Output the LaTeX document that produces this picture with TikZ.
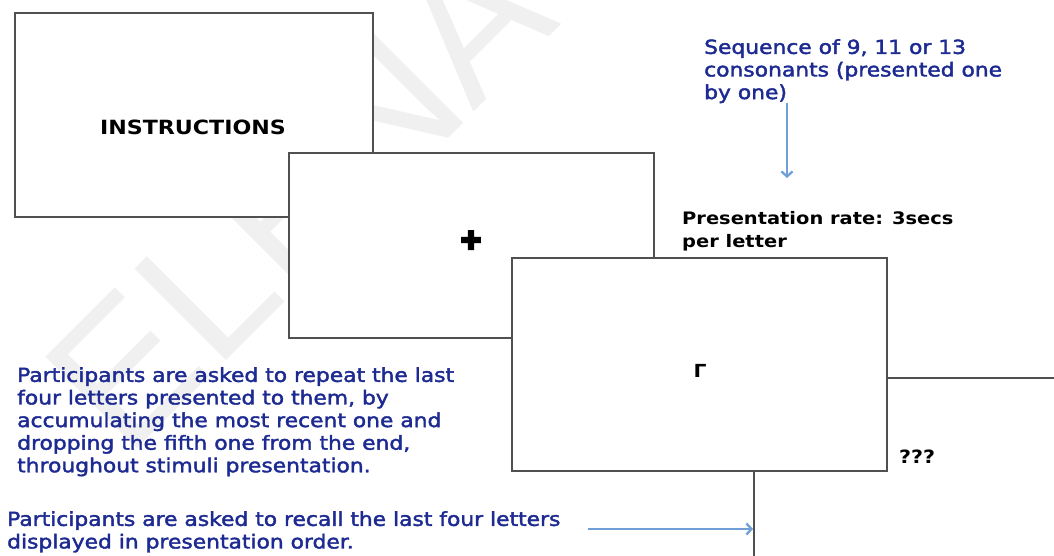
\documentclass[tikz,border=0pt]{standalone}
\usepackage{fontspec}
\usetikzlibrary{arrows.meta,shadows}
\newfontfamily\wf[FakeStretch=1.13]{DejaVu Sans}
\newfontfamily\wfm[FakeStretch=1.13,FakeBold=2]{DejaVu Sans}
\newfontfamily\symfont[FakeBold=4]{DejaVu Sans}
\newfontfamily\wmfont{Liberation Sans}
\definecolor{txtblue}{HTML}{1C2A92}
\definecolor{arrblue}{HTML}{6F9FD6}
\definecolor{boxline}{HTML}{505050}
\begin{document}
\begin{tikzpicture}[x=1pt,y=-1pt,
  slide/.style={draw=boxline, line width=1.6pt, fill=white, anchor=north west,
    drop shadow={shadow xshift=1.2pt, shadow yshift=-1.2pt, opacity=0.3}},
  note/.style={font=\wfm\fontsize{19.3}{22.6}\selectfont, text=txtblue, align=left,
    anchor=north west, inner sep=0pt},
  boldnote/.style={font=\wf\bfseries\fontsize{17.2}{23}\selectfont, align=left,
    anchor=north west, inner sep=0pt},
  cue/.style={-{Straight Barb[length=5pt,width=11pt]}, draw=arrblue, line width=2.3pt}]
\useasboundingbox (0,0) rectangle (1054,555);
\clip (0,0) rectangle (1054,555);
\fill[white] (0,0) rectangle (1054,555);
% watermark
\node[font=\wmfont\fontsize{188}{190}\selectfont, text=black!6, rotate=45, inner sep=0pt] (wm) at (299,196) {ELENA};
% slides
\node[slide, minimum width=358pt, minimum height=204pt] (s1) at (14,12) {};
\node[slide, minimum width=365pt, minimum height=185pt] (s2) at (288,152) {};
\node[slide, minimum width=420pt, minimum height=320pt] (s4) at (753,377) {};
\node[slide, minimum width=375pt, minimum height=213pt] (s3) at (511,257) {};
% slide contents
\node[font=\wf\bfseries\fontsize{19.6}{22}\selectfont] (instr) at (193,127) {INSTRUCTIONS};
\node[font=\symfont\fontsize{26}{26}\selectfont, inner sep=0pt] (fix) at (471,240) {✚};
\node[font=\wf\bfseries\fontsize{18}{20}\selectfont, inner sep=0pt] (letter) at (700,371) {Γ};
\node[font=\wf\bfseries\fontsize{18.3}{20}\selectfont, inner sep=0pt] (qq) at (917,457) {???};
% notes
\node[note] (seq) at (704,39) {Sequence of 9, 11 or 13\\consonants (presented one\\by one)};
\node[boldnote] (rate) at (682,211) {Presentation rate: 3secs\\per letter};
\node[note] (rep) at (17,367) {Participants are asked to repeat the last\\four letters presented to them, by\\accumulating the most recent one and\\dropping the fifth one from the end,\\throughout stimuli presentation.};
\node[note] (rec) at (7,511) {Participants are asked to recall the last four letters\\displayed in presentation order.};
% arrows
\coordinate (a1e) at (787,178);
\draw[cue] (seq.south -| a1e) -- (a1e);
\coordinate (a2s) at (588,529);
\draw[cue] (a2s) -- (a2s -| s4.west);
\end{tikzpicture}
\end{document}
